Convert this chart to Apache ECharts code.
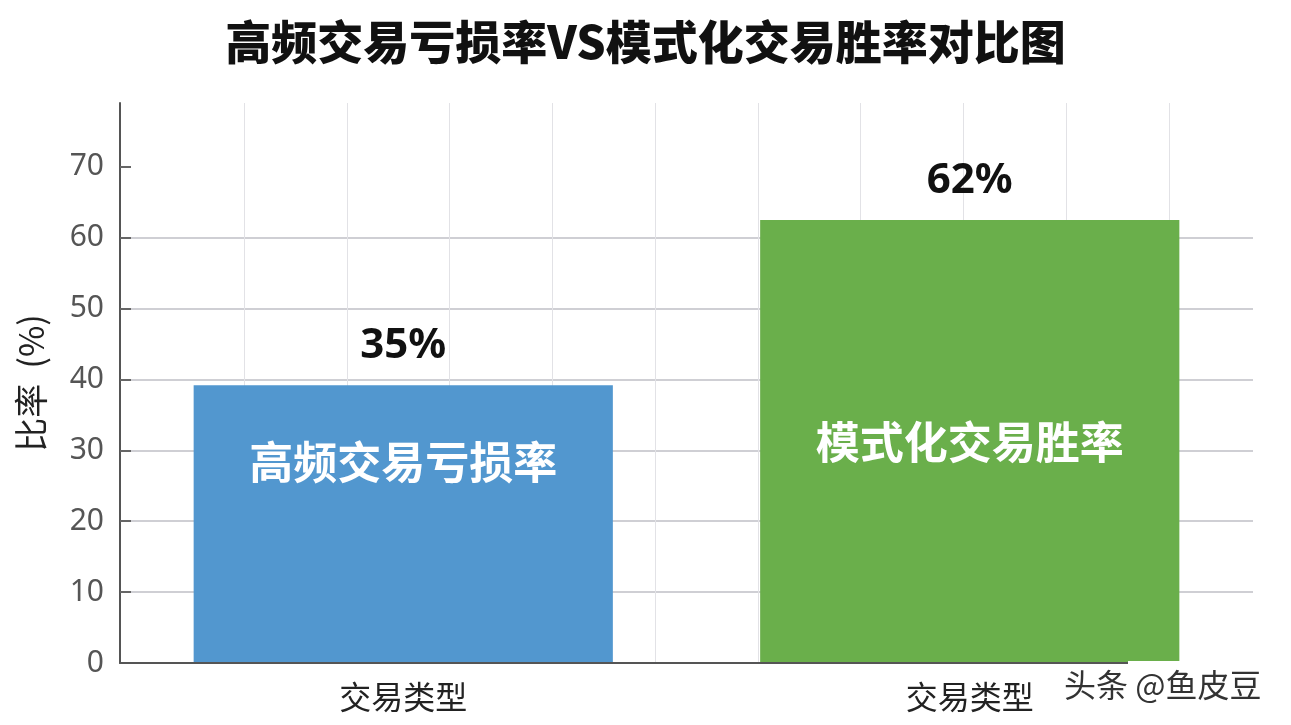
<!DOCTYPE html>
<html lang="zh-CN">
<head>
    <meta charset="UTF-8" />
    <title>高频交易亏损率VS模式化交易胜率对比图</title>
    <script src="https://cdn.jsdelivr.net/npm/echarts@6/dist/echarts.min.js"></script>
    <style>
        html, body { margin: 0; padding: 0; background: #fff; }
        #chart { width: 1291px; height: 725px; }
    </style>
</head>
<body>
    <div id="chart"></div>
    <script>
        // 数据
        const categories = ['交易类型', '交易类型'];
        const barNames = ['高频交易亏损率', '模式化交易胜率'];
        const barValues = [39.2, 62.5];
        const valueLabels = ['35%', '62%'];
        const barColors = ['#5297cf', '#6aaf4b'];
        const yTicks = [0, 10, 20, 30, 40, 50, 60, 70];

        const font = '"Noto Sans CJK SC", "Noto Sans", sans-serif';
        const chart = echarts.init(document.getElementById('chart'));

        // 柱内文字离柱顶的距离
        const innerDistance = [55, 200];

        const option = {
            animation: false,
            title: {
                text: '高频交易亏损率VS模式化交易胜率对比图',
                left: 'center',
                top: 14,
                textStyle: { fontFamily: font, fontSize: 46, fontWeight: 900, color: '#111' }
            },
            grid: [
                { left: 120, right: 38, top: 103, bottom: 62 },
                // 仅用于画竖向网格线
                { left: 244, right: 122, top: 103, bottom: 62 }
            ],
            xAxis: [
                {
                    type: 'category',
                    data: categories,
                    gridIndex: 0,
                    z: 3,
                    axisLine: { lineStyle: { color: '#555', width: 2 } },
                    axisTick: { inside: true, alignWithLabel: true, length: 10, lineStyle: { color: '#666', width: 2 } },
                    axisLabel: { fontFamily: font, fontSize: 32, color: '#222', margin: 18 }
                },
                {
                    type: 'value',
                    gridIndex: 1,
                    min: 0,
                    max: 9,
                    interval: 1,
                    axisLine: { show: false },
                    axisTick: { show: false },
                    axisLabel: { show: false },
                    splitLine: { show: true, lineStyle: { color: '#e2e2e6', width: 1 } }
                }
            ],
            yAxis: [
                {
                    type: 'value',
                    gridIndex: 0,
                    min: 0,
                    max: 79,
                    interval: 10,
                    name: '比率  (%)',
                    nameLocation: 'middle',
                    nameGap: 72,
                    nameRotate: 90,
                    nameTextStyle: { fontFamily: font, fontSize: 34, color: '#222' },
                    axisLine: { show: true, lineStyle: { color: '#555', width: 2 } },
                    axisTick: { show: true, inside: true, length: 11, customValues: yTicks, lineStyle: { color: '#666', width: 2 } },
                    axisLabel: { fontFamily: '"Noto Sans", sans-serif', fontSize: 30, color: '#555', margin: 16, customValues: yTicks },
                    splitLine: { show: true, showMaxLine: false, lineStyle: { color: '#cfcfd4', width: 2 } }
                },
                { type: 'value', gridIndex: 1, show: false, min: 0, max: 1 }
            ],
            series: [
                {
                    type: 'bar',
                    xAxisIndex: 0,
                    yAxisIndex: 0,
                    barWidth: '74%',
                    z: 2,
                    data: barValues.map((v, i) => ({
                        value: v,
                        itemStyle: { color: barColors[i] },
                        label: {
                            show: true,
                            position: 'insideTop',
                            distance: innerDistance[i],
                            formatter: barNames[i],
                            fontFamily: font,
                            fontSize: 44,
                            fontWeight: 'bold',
                            color: '#fff'
                        }
                    }))
                },
                {
                    // 柱顶的百分比
                    type: 'bar',
                    xAxisIndex: 0,
                    yAxisIndex: 0,
                    barWidth: '74%',
                    barGap: '-100%',
                    z: 1,
                    itemStyle: { color: 'transparent' },
                    data: barValues.map((v, i) => ({
                        value: v,
                        label: {
                            show: true,
                            position: 'top',
                            distance: 18,
                            formatter: valueLabels[i],
                            fontFamily: '"Noto Sans", sans-serif',
                            fontSize: 42,
                            fontWeight: 'bold',
                            color: '#111'
                        }
                    }))
                }
            ],
            graphic: [
                {
                    type: 'rect',
                    left: 1128,
                    top: 661,
                    shape: { width: 163, height: 64 },
                    style: { fill: '#fff' },
                    z: 10
                },
                {
                    type: 'text',
                    left: 1064,
                    top: 669,
                    z: 11,
                    style: {
                        text: '头条 @鱼皮豆',
                        fontFamily: font,
                        fontSize: 32,
                        fill: '#333'
                    }
                }
            ]
        };

        chart.setOption(option);
    </script>
</body>
</html>
